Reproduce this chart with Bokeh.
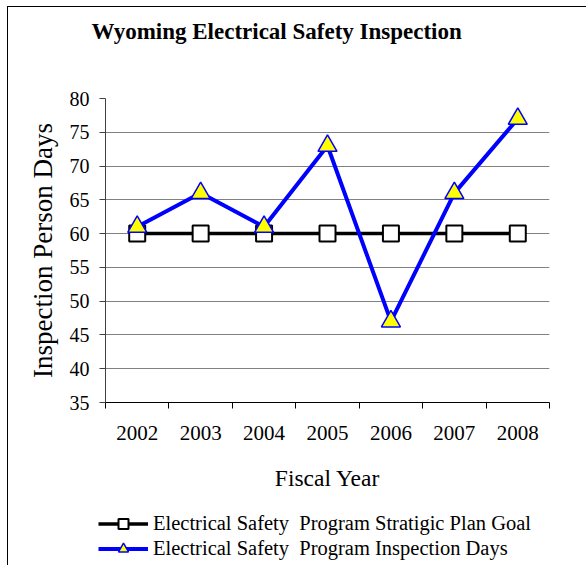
from bokeh.plotting import figure
from bokeh.layouts import column
from bokeh.models import Range1d, FixedTicker, Legend, LegendItem, ColumnDataSource, Title
from bokeh.embed import file_html
from bokeh.resources import INLINE

years = ["2002", "2003", "2004", "2005", "2006", "2007", "2008"]
plan_goal = [60, 60, 60, 60, 60, 60, 60]
inspection_days = [61, 66, 61, 73, 47, 66, 77]
y_ticks = [35, 40, 45, 50, 55, 60, 65, 70, 75, 80]

title_text = "Wyoming Electrical Safety Inspection"
x_label = "Fiscal Year"
y_label = "Inspection Person Days"
goal_label = "Electrical Safety  Program Stratigic Plan Goal"
days_label = "Electrical Safety  Program Inspection Days"

xs = list(range(1, len(years) + 1))
src = ColumnDataSource(dict(x=xs, year=years, goal=plan_goal, days=inspection_days))

SERIF = "Liberation Serif"
GOAL_LINE = dict(line_color="black", line_width=3.5)
GOAL_MARK = dict(marker="square", size=16, fill_color="white", line_color="black", line_width=2)
DAYS_LINE = dict(line_color="#0000FF", line_width=4)
DAYS_MARK = dict(marker="triangle", size=19, fill_color="#FFFF00", line_color="#0000FF", line_width=1.5)

# ---------------- main chart ----------------
p = figure(width=578, height=493, output_backend="svg", toolbar_location=None, title=None,
           x_range=Range1d(0.5, len(years) + 0.5), y_range=Range1d(y_ticks[0], y_ticks[-1]),
           min_border_left=97, min_border_right=37, min_border_top=91, min_border_bottom=98)
p.frame_align = False
p.outline_line_color = None
p.background_fill_color = "white"
p.border_fill_color = "white"

# spacer between title and plot area, then the title itself
p.add_layout(Title(text=" ", text_font_size="1px", standoff=50), "above")
p.add_layout(Title(text=title_text, text_font=SERIF, text_font_size="23px",
                   text_font_style="bold", text_color="black", align="left",
                   offset=-14, standoff=0, vertical_align="top"), "above")

p.line("x", "goal", source=src, **GOAL_LINE)
p.scatter("x", "goal", source=src, **GOAL_MARK)
p.line("x", "days", source=src, **DAYS_LINE)
p.scatter("x", "days", source=src, **DAYS_MARK)

p.yaxis.ticker = FixedTicker(ticks=y_ticks)
p.yaxis.major_tick_out = 6
p.yaxis.major_tick_in = 0
p.yaxis.minor_tick_line_color = None
p.yaxis.axis_line_color = "#404040"
p.yaxis.major_tick_line_color = "#404040"
p.yaxis.major_label_text_font = SERIF
p.yaxis.major_label_text_font_size = "20px"
p.yaxis.major_label_text_color = "black"
p.yaxis.major_label_standoff = 10
p.yaxis.axis_label = y_label
p.yaxis.axis_label_text_font = SERIF
p.yaxis.axis_label_text_font_size = "27px"
p.yaxis.axis_label_text_font_style = "normal"
p.yaxis.axis_label_text_color = "black"
p.yaxis.axis_label_standoff = 9

p.xaxis.ticker = FixedTicker(ticks=xs, minor_ticks=[x - 0.5 for x in xs] + [xs[-1] + 0.5])
p.xaxis.major_label_overrides = {x: y for x, y in zip(xs, years)}
p.xaxis.major_tick_line_color = None
p.xaxis.major_tick_out = 6
p.xaxis.minor_tick_out = 6
p.xaxis.minor_tick_in = 0
p.xaxis.minor_tick_line_color = "black"
p.xaxis.axis_line_color = "black"
p.xaxis.major_label_text_font = SERIF
p.xaxis.major_label_text_font_size = "21px"
p.xaxis.major_label_text_color = "black"
p.xaxis.major_label_standoff = 17
p.xaxis.axis_label = x_label
p.xaxis.axis_label_text_font = SERIF
p.xaxis.axis_label_text_font_size = "23.5px"
p.xaxis.axis_label_text_font_style = "normal"
p.xaxis.axis_label_text_color = "black"
p.xaxis.axis_label_standoff = 22

p.xgrid.grid_line_color = None
p.ygrid.grid_line_color = "#808080"
p.ygrid.grid_line_width = 1

# ---------------- legend strip below the chart ----------------
pl = figure(width=578, height=65, output_backend="svg", toolbar_location=None,
            x_axis_type=None, y_axis_type=None,
            x_range=Range1d(0, 1), y_range=Range1d(0, 1),
            min_border_left=0, min_border_right=0, min_border_top=0, min_border_bottom=0)
pl.frame_align = False
pl.outline_line_color = None
pl.background_fill_color = "white"
pl.border_fill_color = "white"
# same series, out of this strip's view; only their legend keys show
g_l = pl.line("x", "goal", source=src, **GOAL_LINE)
g_m = pl.scatter("x", "goal", source=src, **GOAL_MARK)
d_l = pl.line("x", "days", source=src, **DAYS_LINE)
d_m = pl.scatter("x", "days", source=src, **DAYS_MARK)

legend = Legend(items=[LegendItem(label=goal_label, renderers=[g_l, g_m]),
                       LegendItem(label=days_label, renderers=[d_l, d_m])],
                location=(90, 4), orientation="vertical",
                glyph_width=50, glyph_height=25, label_height=25, spacing=0,
                label_standoff=5, padding=0, margin=0,
                border_line_color=None, background_fill_alpha=0,
                label_text_font=SERIF, label_text_font_size="20.5px",
                label_text_color="black")
pl.add_layout(legend)

layout = column(p, pl, spacing=0)
layout.styles = {"border-top": "1px solid black", "border-left": "1px solid black",
                 "margin-left": "7px", "margin-top": "6px"}

open("out.html", "w").write(file_html(layout, INLINE))
